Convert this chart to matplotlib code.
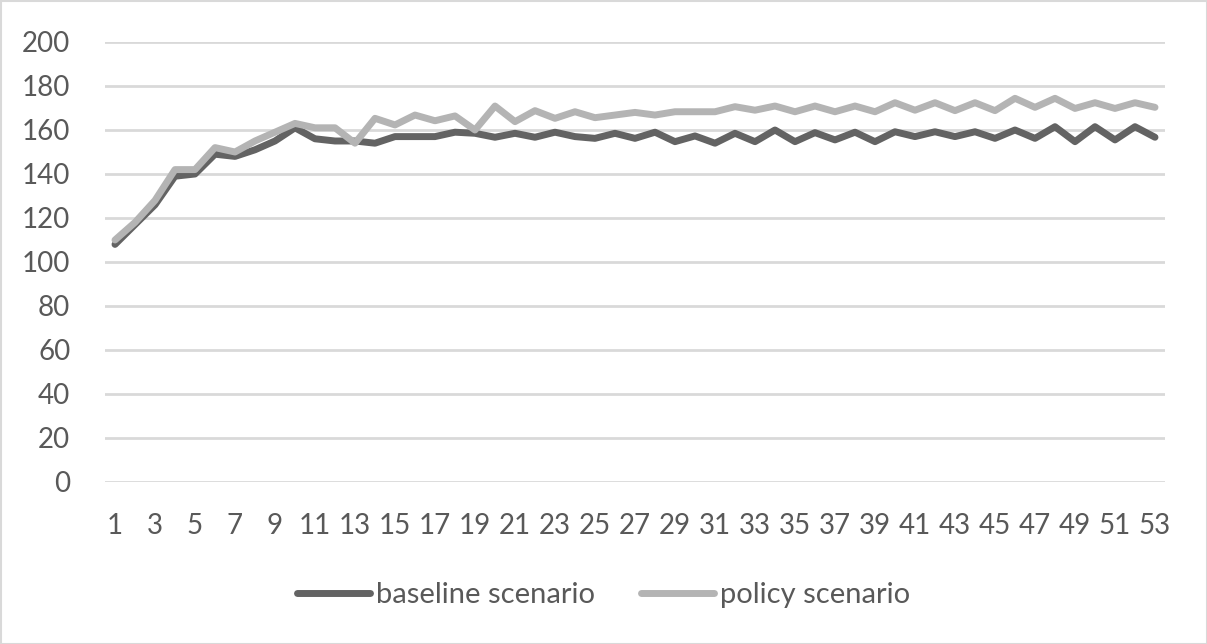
import matplotlib
matplotlib.use("Agg")
import matplotlib.pyplot as plt
from matplotlib.patches import Rectangle

weeks = list(range(1, 54))
baseline = [108, 117, 126, 139, 140, 149, 148, 151, 155, 161,
            156, 155, 155, 154, 157, 157, 157, 159, 158.5, 156.7,
            158.5, 156.7, 159, 157, 156.2, 158.5, 156.2, 159, 154.7, 157.3,
            154, 158.5, 154.7, 160, 154.7, 158.8, 155.5, 159, 154.7, 159.2,
            157, 159.2, 157, 159.2, 156.2, 160, 156.2, 161.5, 154.7, 161.5,
            155.5, 161.5, 156.7]
policy = [110, 118, 128, 142, 142, 152, 150, 155, 159, 163,
          161, 161, 154, 165.3, 162.3, 166.8, 164.2, 166.4, 160, 170.9,
          163.8, 168.8, 165.3, 168.3, 165.6, 166.8, 168, 166.8, 168.3, 168.3,
          168.3, 170.6, 169, 170.9, 168.3, 170.9, 168.3, 170.9, 168.3, 172.4,
          169, 172.4, 168.8, 172.4, 168.8, 174.4, 170.3, 174.4, 169.8, 172.4,
          169.8, 172.4, 170.3]
series_names = ["baseline scenario", "policy scenario"]
y_ticks = list(range(0, 201, 20))
x_tick_labels = [str(w) for w in weeks[::2]]

plt.rcParams['font.family'] = ['Lato', 'DejaVu Sans']

W, H = 1207, 644
fig = plt.figure(figsize=(W / 100, H / 100), dpi=100)
ax = fig.add_axes([105 / W, 1 - 482 / H, 1060 / W, 440 / H])

ax.plot(weeks, baseline, color='#636363', lw=5, solid_joinstyle='round', solid_capstyle='round', label=series_names[0], zorder=3)
ax.plot(weeks, policy, color='#b4b4b4', lw=5, solid_joinstyle='round', solid_capstyle='round', label=series_names[1], zorder=3)

ax.set_xlim(0.5, 53.5)
ax.set_ylim(0, 200)
ax.set_yticks(y_ticks)
ax.set_xticks(weeks[::2])
ax.set_xticklabels(x_tick_labels)
ax.grid(axis='y', color='#d9d9d9', lw=2)
ax.set_axisbelow(True)
for s in ax.spines.values():
    s.set_visible(False)
ax.tick_params(length=0, labelsize=20, labelcolor='#595959')
ax.tick_params(axis='y', pad=25)
ax.tick_params(axis='x', pad=22)

leg = fig.legend(loc='center', bbox_to_anchor=(0.5, 1 - 595 / H), ncol=2, frameon=False,
                 fontsize=21, handlelength=2.5, columnspacing=1.6, handletextpad=0.2, labelcolor='#595959')

fig.patches.append(Rectangle((0.5 / W, 0.5 / H), 1 - 1 / W, 1 - 1 / H, transform=fig.transFigure,
                             fill=False, edgecolor='#d9d9d9', lw=1.5))

fig.savefig('out.png', dpi=100, facecolor='white')
